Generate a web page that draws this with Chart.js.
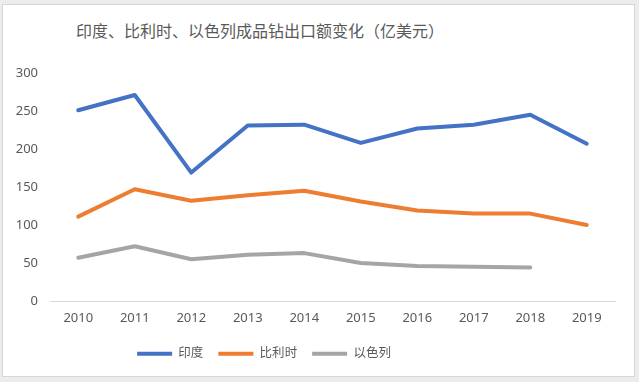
<!DOCTYPE html>
<html>
<head>
<meta charset="utf-8">
<script src="https://cdn.jsdelivr.net/npm/chart.js@4.4.1/dist/chart.umd.min.js"></script>
<style>
  html, body { margin: 0; padding: 0; background: #ececec; }
  body { width: 639px; height: 382px; position: relative; overflow: hidden; }
  .frame {
    position: absolute; left: 2px; top: 4px; width: 631px; height: 371px;
    background: #fff; border: 1px solid #d6d6d6;
  }
  .title {
    position: absolute; left: 0; top: 0; width: 514px; text-align: center;
    font: 16px "Noto Sans CJK SC", sans-serif; color: #595959;
    line-height: 20px; padding-top: 15px;
  }
  canvas { position: absolute; left: 0; top: 0; }
</style>
</head>
<body>
<div class="frame">
  <div class="title">印度、比利时、以色列成品钻出口额变化（亿美元）</div>
  <canvas id="chart" width="631" height="371"></canvas>
</div>
<script>
const years = ['2010', '2011', '2012', '2013', '2014', '2015', '2016', '2017', '2018', '2019'];
const india = [251, 271, 169, 231, 232, 208, 227, 232, 245, 207];
const belgium = [111, 147, 132, 139, 145, 131, 119, 115, 115, 100];
const israel = [57, 72, 55, 61, 63, 50, 46, 45, 44, null];

const textColor = '#595959';
const fontFamily = "'Noto Sans', 'Noto Sans CJK SC', sans-serif";

function series(label, data, color) {
    return {
        label: label,
        data: data,
        borderColor: color,
        backgroundColor: color,
        borderWidth: 4,
        pointRadius: 0,
        pointHoverRadius: 0,
        tension: 0,
        borderJoinStyle: 'round',
        borderCapStyle: 'round',
        spanGaps: false,
        fill: false
    };
}

// legend in the original sits left of centre, like the title
const legendShift = {
    id: 'legendShift',
    afterLayout(chart) {
        chart.legend.right -= 90;
    }
};

new Chart(document.getElementById('chart'), {
    type: 'line',
    data: {
        labels: years,
        datasets: [
            series('印度', india, '#4472C4'),
            series('比利时', belgium, '#ED7D31'),
            series('以色列', israel, '#A5A5A5')
        ]
    },
    plugins: [legendShift],
    options: {
        responsive: false,
        animation: false,
        layout: {
            padding: { top: 68, right: 19, left: 0, bottom: 6 }
        },
        plugins: {
            title: { display: false },
            tooltip: { enabled: false },
            legend: {
                position: 'bottom',
                labels: {
                    boxWidth: 35,
                    boxHeight: 4,
                    padding: 15,
                    color: textColor,
                    font: { family: fontFamily, size: 12.5 },
                    generateLabels: (chart) => {
                        const items = Chart.defaults.plugins.legend.labels.generateLabels(chart);
                        items.forEach(it => { it.lineWidth = 0; });
                        return items;
                    }
                }
            }
        },
        scales: {
            x: {
                offset: true,
                grid: { display: false, drawTicks: false, offset: true },
                border: { display: true, color: '#d9d9d9', width: 1 },
                ticks: {
                    color: textColor,
                    padding: 9,
                    maxRotation: 0,
                    font: { family: fontFamily, size: 13 }
                },
                afterFit: (scale) => { scale.height = 31.5; }
            },
            y: {
                min: 0,
                max: 300,
                grid: { display: false, drawTicks: false },
                border: { display: false },
                ticks: {
                    stepSize: 50,
                    color: textColor,
                    padding: 12,
                    font: { family: fontFamily, size: 13 }
                },
                afterFit: (scale) => { scale.width = 47; }
            }
        }
    }
});
</script>
</body>
</html>
